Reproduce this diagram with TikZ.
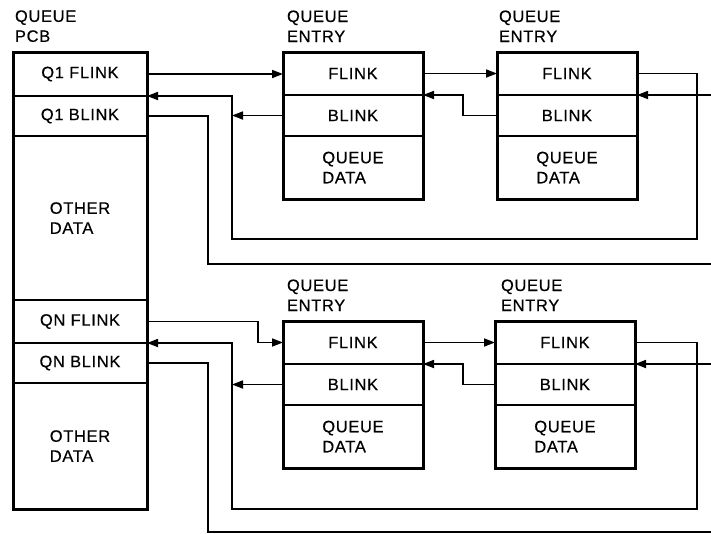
\documentclass[tikz,border=0pt]{standalone}
\usepackage{fontspec}
\setmainfont{Liberation Sans}[LetterSpace=4,FakeBold=0.4]
\usetikzlibrary{arrows.meta,calc}

% one queue entry: FLINK, BLINK and data cells under a heavy frame
\newcommand\qentry[3]{%
  \node[cell, minimum width=140pt, minimum height=43pt] (#1f) at (#2,#3) {FLINK};
  \node[cell, minimum width=140pt, minimum height=41pt] (#1b) at (#1f.south west) {BLINK};
  \node[cell, minimum width=140pt, minimum height=63pt, align=left] (#1d) at (#1b.south west) {QUEUE\\DATA};
  \draw[frame] (#1f.north west) rectangle (#1d.south east);
}

\begin{document}
\begin{tikzpicture}[x=1pt,y=-1pt,
  txt/.style={font=\fontsize{16.5}{20}\selectfont, inner sep=0pt, outer sep=0pt},
  cell/.style={txt, draw, line width=1.5pt, anchor=north west, align=center},
  title/.style={txt, anchor=south west, align=left},
  frame/.style={draw, line width=3pt},
  link/.style={draw, line width=1.7pt},
  tip/.style={link, -{Triangle[length=11pt,width=8pt]}}
]
\useasboundingbox (0,0) rectangle (711,533);

% ---- queue header PCB ----
\node[title] (tpcb) at (15,42) {QUEUE\\PCB};
\node[cell, minimum width=134pt, minimum height=44pt] (q1f) at (13,52) {Q1 FLINK};
\node[cell, minimum width=134pt, minimum height=40pt] (q1b) at (q1f.south west) {Q1 BLINK};
\node[cell, minimum width=134pt, minimum height=164pt, align=left] (od1) at (q1b.south west) {OTHER\\DATA};
\node[cell, minimum width=134pt, minimum height=43pt] (qnf) at (od1.south west) {QN FLINK};
\node[cell, minimum width=134pt, minimum height=40pt] (qnb) at (qnf.south west) {QN BLINK};
\node[cell, minimum width=134pt, minimum height=126pt, align=left] (od2) at (qnb.south west) {OTHER\\DATA};
\draw[frame] (q1f.north west) rectangle (od2.south east);

% ---- entries of queue 1 ----
\node[title] (t1) at (287,42) {QUEUE\\ENTRY};
\node[title] (t2) at (499,42) {QUEUE\\ENTRY};
\qentry{e1}{283}{52}
\qentry{e2}{497}{52}

% ---- entries of queue N ----
\node[title] (t3) at (287,311) {QUEUE\\ENTRY};
\node[title] (t4) at (501,311) {QUEUE\\ENTRY};
\qentry{e3}{283}{321}
\qentry{e4}{495}{321}

% ---- links of queue 1 ----
\coordinate (ring1) at (697,239);
\coordinate (hd1) at (232,239);
\coordinate (bk1) at (208,264);
\coordinate (out1) at (711,264);
\coordinate (in1) at (711,95);
\draw[tip] (q1f.east) -- (q1f.east -| e1f.west);
\draw[tip] (e1f.east) -- (e1f.east -| e2f.west);
\draw[tip] (e2f.east) -| (ring1) -- (hd1) |- (q1f.south east);
\draw[tip] (e1b.west) -- (e1b.west -| hd1);
\draw[link] (q1b.east) -| (bk1) -- (out1);
\draw[tip] (e2b.west) -- ++(-34,0) |- (e1f.south east);
\draw[tip] (in1) -- (e2f.south east);

% ---- links of queue N ----
\coordinate (ring2) at (697,509);
\coordinate (hd2) at (232,509);
\coordinate (bk2) at (208,532);
\coordinate (out2) at (711,532);
\coordinate (in2) at (711,364);
\draw[tip] (qnf.east) -- ++(111,0) |- (e3f.west);
\draw[tip] (e3f.east) -- (e3f.east -| e4f.west);
\draw[tip] (e4f.east) -| (ring2) -- (hd2) |- (qnf.south east);
\draw[tip] (e3b.west) -- (e3b.west -| hd2);
\draw[link] (qnb.east) -| (bk2) -- (out2);
\draw[tip] (e4b.west) -- ++(-32,0) |- (e3f.south east);
\draw[tip] (in2) -- (e4f.south east);
\end{tikzpicture}
\end{document}
